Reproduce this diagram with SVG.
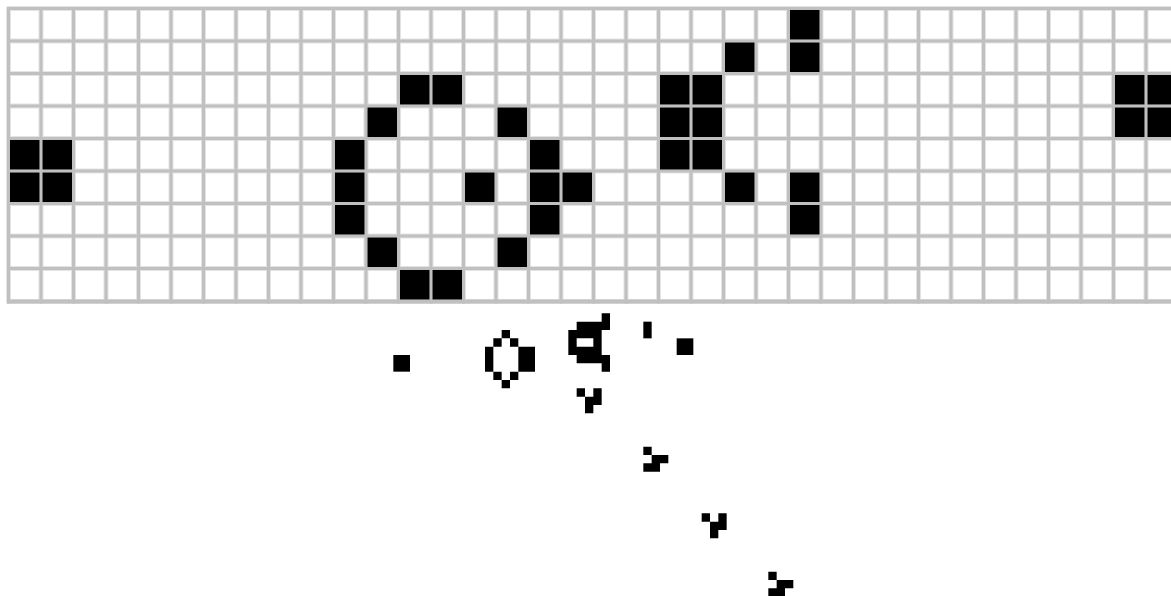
<svg xmlns="http://www.w3.org/2000/svg" width="1171" height="596" viewBox="0 0 1171 596">
<style>
.fringe{fill:none;stroke:#e3e3e3;stroke-width:5}
.line{fill:none;stroke:#c0c0c0;stroke-width:3}
.on{fill:#000}
.cell{fill:#000}
</style>
<defs>
<rect id="c" width="29.5" height="29.5"/>
</defs>
<rect width="1171" height="596" fill="#fff"/>
<g id="grid">
<path class="fringe" d="M8.5 7V303.5M41 7V303.5M73.5 7V303.5M106 7V303.5M138.5 7V303.5M171 7V303.5M203.5 7V303.5M236 7V303.5M268.5 7V303.5M301 7V303.5M333.5 7V303.5M366 7V303.5M398.5 7V303.5M431 7V303.5M463.5 7V303.5M496 7V303.5M528.5 7V303.5M561 7V303.5M593.5 7V303.5M626 7V303.5M658.5 7V303.5M691 7V303.5M723.5 7V303.5M756 7V303.5M788.5 7V303.5M821 7V303.5M853.5 7V303.5M886 7V303.5M918.5 7V303.5M951 7V303.5M983.5 7V303.5M1016 7V303.5M1048.5 7V303.5M1081 7V303.5M1113.5 7V303.5M1146 7V303.5M7 8.5H1171M7 41H1171M7 73.5H1171M7 106H1171M7 138.5H1171M7 171H1171M7 203.5H1171M7 236H1171M7 268.5H1171M7 301.5H1171"/>
<path class="line" d="M8.5 7V303.5M41 7V303.5M73.5 7V303.5M106 7V303.5M138.5 7V303.5M171 7V303.5M203.5 7V303.5M236 7V303.5M268.5 7V303.5M301 7V303.5M333.5 7V303.5M366 7V303.5M398.5 7V303.5M431 7V303.5M463.5 7V303.5M496 7V303.5M528.5 7V303.5M561 7V303.5M593.5 7V303.5M626 7V303.5M658.5 7V303.5M691 7V303.5M723.5 7V303.5M756 7V303.5M788.5 7V303.5M821 7V303.5M853.5 7V303.5M886 7V303.5M918.5 7V303.5M951 7V303.5M983.5 7V303.5M1016 7V303.5M1048.5 7V303.5M1081 7V303.5M1113.5 7V303.5M1146 7V303.5M7 8.5H1171M7 41H1171M7 73.5H1171M7 106H1171M7 138.5H1171M7 171H1171M7 203.5H1171M7 236H1171M7 268.5H1171"/>
<rect x="7" y="299.5" width="1164" height="4" fill="#c0c0c0"/>
</g>
<g id="gun-zoomed" class="on">
<use href="#c" x="790" y="10"/>
<use href="#c" x="725" y="42.5"/><use href="#c" x="790" y="42.5"/>
<use href="#c" x="400" y="75"/><use href="#c" x="432.5" y="75"/><use href="#c" x="660" y="75"/><use href="#c" x="692.5" y="75"/><use href="#c" x="1115" y="75"/><use href="#c" x="1147.5" y="75"/>
<use href="#c" x="367.5" y="107.5"/><use href="#c" x="497.5" y="107.5"/><use href="#c" x="660" y="107.5"/><use href="#c" x="692.5" y="107.5"/><use href="#c" x="1115" y="107.5"/><use href="#c" x="1147.5" y="107.5"/>
<use href="#c" x="10" y="140"/><use href="#c" x="42.5" y="140"/><use href="#c" x="335" y="140"/><use href="#c" x="530" y="140"/><use href="#c" x="660" y="140"/><use href="#c" x="692.5" y="140"/>
<use href="#c" x="10" y="172.5"/><use href="#c" x="42.5" y="172.5"/><use href="#c" x="335" y="172.5"/><use href="#c" x="465" y="172.5"/><use href="#c" x="530" y="172.5"/><use href="#c" x="562.5" y="172.5"/><use href="#c" x="725" y="172.5"/><use href="#c" x="790" y="172.5"/>
<use href="#c" x="335" y="205"/><use href="#c" x="530" y="205"/><use href="#c" x="790" y="205"/>
<use href="#c" x="367.5" y="237.5"/><use href="#c" x="497.5" y="237.5"/>
<use href="#c" x="400" y="270"/><use href="#c" x="432.5" y="270"/>
</g>
<g id="gun-small" transform="translate(393.333 355) scale(8.3333)">
<path id="block-left" class="cell" d="M0 0h2v2h-2z"/>
<path id="shuttle" class="cell" d="M13 -3h1v1h-1zM12 -2h1v1h-1zM14 -2h1v1h-1zM11 -1h1v3h-1zM15 -1h2v3h-2zM12 2h1v1h-1zM14 2h1v1h-1zM13 3h1v1h-1z"/>
<path id="shuttle2" class="cell" d="M25 -5h1v1h-1zM22 -4h4v1h-4zM21 -3h4v1h-4zM21 -2h1v1h-1zM24 -2h1v1h-1zM21 -1h4v1h-4zM22 0h4v1h-4zM25 1h1v1h-1z"/>
<path id="bar" class="cell" d="M30 -4h1v2h-1z"/>
<path id="block-right" class="cell" d="M34 -2h2v2h-2z"/>
<path id="glider1" class="cell" d="M22 4h1v1h-1zM24 4h1v2h-1zM23 5h1v2h-1z"/>
<path id="glider2" class="cell" d="M30 11h1v1h-1zM31 12h2v1h-2zM30 13h2v1h-2z"/>
<path id="glider3" class="cell" d="M37 19h1v1h-1zM39 19h1v2h-1zM38 20h1v2h-1z"/>
<path id="glider4" class="cell" d="M45 26h1v1h-1zM46 27h2v1h-2zM45 28h2v1h-2z"/>
</g>
</svg>
